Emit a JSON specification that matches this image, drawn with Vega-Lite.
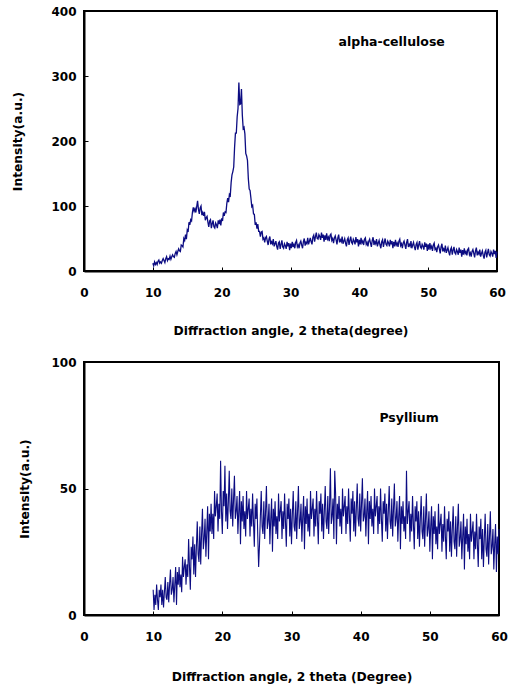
{
  "$schema": "https://vega.github.io/schema/vega-lite/v6.json",
  "background": "white",
  "padding": {"left": 10, "top": 4, "right": 10, "bottom": 2},
  "spacing": 17,
  "config": {
    "font": "DejaVu Sans",
    "view": {"stroke": "black", "strokeWidth": 2},
    "axis": {
      "domainColor": "black", "domainWidth": 2,
      "tickColor": "black", "tickWidth": 1, "tickSize": -4,
      "labelFont": "DejaVu Sans", "labelFontWeight": "bold", "labelFontSize": 12, "labelColor": "black",
      "titleFont": "DejaVu Sans", "titleFontWeight": "bold", "titleFontSize": 12.3, "titleColor": "black",
      "grid": false, "labelPadding": 12, "labelOverlap": false, "labelFlush": false
    }
  },
  "datasets": {
    "alpha": [
      {"angle":10,"intensity":12},{"angle":10.125,"intensity":8},{"angle":10.25,"intensity":14},{"angle":10.375,"intensity":10},{"angle":10.5,"intensity":13},{"angle":10.625,"intensity":10},{"angle":10.75,"intensity":15},{"angle":10.875,"intensity":17},
      {"angle":11,"intensity":12},{"angle":11.125,"intensity":14},{"angle":11.25,"intensity":12},{"angle":11.375,"intensity":16},{"angle":11.5,"intensity":19},{"angle":11.625,"intensity":16},{"angle":11.75,"intensity":13},{"angle":11.875,"intensity":19},
      {"angle":12,"intensity":22},{"angle":12.125,"intensity":16},{"angle":12.25,"intensity":19},{"angle":12.375,"intensity":18},{"angle":12.5,"intensity":23},{"angle":12.625,"intensity":18},{"angle":12.75,"intensity":22},{"angle":12.875,"intensity":25},
      {"angle":13,"intensity":22},{"angle":13.125,"intensity":21},{"angle":13.25,"intensity":27},{"angle":13.375,"intensity":30},{"angle":13.5,"intensity":25},{"angle":13.625,"intensity":30},{"angle":13.75,"intensity":34},{"angle":13.875,"intensity":31},
      {"angle":14,"intensity":30},{"angle":14.125,"intensity":40},{"angle":14.25,"intensity":39},{"angle":14.375,"intensity":37},{"angle":14.5,"intensity":50},{"angle":14.625,"intensity":47},{"angle":14.75,"intensity":56},{"angle":14.875,"intensity":49},
      {"angle":15,"intensity":63},{"angle":15.125,"intensity":60},{"angle":15.25,"intensity":75},{"angle":15.375,"intensity":71},{"angle":15.5,"intensity":79},{"angle":15.625,"intensity":77},{"angle":15.75,"intensity":90},{"angle":15.875,"intensity":98},
      {"angle":16,"intensity":92},{"angle":16.125,"intensity":96},{"angle":16.25,"intensity":90},{"angle":16.375,"intensity":99},{"angle":16.5,"intensity":108},{"angle":16.625,"intensity":95},{"angle":16.75,"intensity":88},{"angle":16.875,"intensity":97},
      {"angle":17,"intensity":100},{"angle":17.125,"intensity":86},{"angle":17.25,"intensity":90},{"angle":17.375,"intensity":85},{"angle":17.5,"intensity":91},{"angle":17.625,"intensity":78},{"angle":17.75,"intensity":82},{"angle":17.875,"intensity":84},
      {"angle":18,"intensity":75},{"angle":18.125,"intensity":68},{"angle":18.25,"intensity":77},{"angle":18.375,"intensity":79},{"angle":18.5,"intensity":66},{"angle":18.625,"intensity":73},{"angle":18.75,"intensity":78},{"angle":18.875,"intensity":68},
      {"angle":19,"intensity":66},{"angle":19.125,"intensity":74},{"angle":19.25,"intensity":71},{"angle":19.375,"intensity":66},{"angle":19.5,"intensity":78},{"angle":19.625,"intensity":72},{"angle":19.75,"intensity":79},{"angle":19.875,"intensity":70},
      {"angle":20,"intensity":81},{"angle":20.125,"intensity":77},{"angle":20.25,"intensity":90},{"angle":20.375,"intensity":85},{"angle":20.5,"intensity":91},{"angle":20.625,"intensity":90},{"angle":20.75,"intensity":104},{"angle":20.875,"intensity":112},
      {"angle":21,"intensity":106},{"angle":21.125,"intensity":118},{"angle":21.25,"intensity":116},{"angle":21.375,"intensity":136},{"angle":21.5,"intensity":148},{"angle":21.625,"intensity":153},{"angle":21.75,"intensity":160},{"angle":21.875,"intensity":190},
      {"angle":22,"intensity":212},{"angle":22.125,"intensity":212},{"angle":22.25,"intensity":237},{"angle":22.375,"intensity":250},{"angle":22.5,"intensity":290},{"angle":22.625,"intensity":256},{"angle":22.75,"intensity":257},{"angle":22.875,"intensity":280},
      {"angle":23,"intensity":240},{"angle":23.125,"intensity":219},{"angle":23.25,"intensity":221},{"angle":23.375,"intensity":211},{"angle":23.5,"intensity":181},{"angle":23.625,"intensity":177},{"angle":23.75,"intensity":170},{"angle":23.875,"intensity":142},
      {"angle":24,"intensity":126},{"angle":24.125,"intensity":124},{"angle":24.25,"intensity":112},{"angle":24.375,"intensity":99},{"angle":24.5,"intensity":101},{"angle":24.625,"intensity":88},{"angle":24.75,"intensity":87},{"angle":24.875,"intensity":71},
      {"angle":25,"intensity":75},{"angle":25.125,"intensity":65},{"angle":25.25,"intensity":72},{"angle":25.375,"intensity":61},{"angle":25.5,"intensity":61},{"angle":25.625,"intensity":53},{"angle":25.75,"intensity":60},{"angle":25.875,"intensity":61},
      {"angle":26,"intensity":49},{"angle":26.125,"intensity":51},{"angle":26.25,"intensity":44},{"angle":26.375,"intensity":51},{"angle":26.5,"intensity":53},{"angle":26.625,"intensity":46},{"angle":26.75,"intensity":40},{"angle":26.875,"intensity":49},
      {"angle":27,"intensity":53},{"angle":27.125,"intensity":41},{"angle":27.25,"intensity":45},{"angle":27.375,"intensity":42},{"angle":27.5,"intensity":49},{"angle":27.625,"intensity":38},{"angle":27.75,"intensity":42},{"angle":27.875,"intensity":46},
      {"angle":28,"intensity":38},{"angle":28.125,"intensity":33},{"angle":28.25,"intensity":43},{"angle":28.375,"intensity":45},{"angle":28.5,"intensity":34},{"angle":28.625,"intensity":41},{"angle":28.75,"intensity":47},{"angle":28.875,"intensity":37},
      {"angle":29,"intensity":35},{"angle":29.125,"intensity":42},{"angle":29.25,"intensity":39},{"angle":29.375,"intensity":34},{"angle":29.5,"intensity":45},{"angle":29.625,"intensity":38},{"angle":29.75,"intensity":43},{"angle":29.875,"intensity":32},
      {"angle":30,"intensity":42},{"angle":30.125,"intensity":35},{"angle":30.25,"intensity":45},{"angle":30.375,"intensity":37},{"angle":30.5,"intensity":41},{"angle":30.625,"intensity":35},{"angle":30.75,"intensity":44},{"angle":30.875,"intensity":47},
      {"angle":31,"intensity":37},{"angle":31.125,"intensity":40},{"angle":31.25,"intensity":35},{"angle":31.375,"intensity":43},{"angle":31.5,"intensity":46},{"angle":31.625,"intensity":40},{"angle":31.75,"intensity":35},{"angle":31.875,"intensity":45},
      {"angle":32,"intensity":50},{"angle":32.125,"intensity":39},{"angle":32.25,"intensity":44},{"angle":32.375,"intensity":42},{"angle":32.5,"intensity":51},{"angle":32.625,"intensity":41},{"angle":32.75,"intensity":46},{"angle":32.875,"intensity":51},
      {"angle":33,"intensity":45},{"angle":33.125,"intensity":41},{"angle":33.25,"intensity":52},{"angle":33.375,"intensity":55},{"angle":33.5,"intensity":45},{"angle":33.625,"intensity":53},{"angle":33.75,"intensity":59},{"angle":33.875,"intensity":50},
      {"angle":34,"intensity":49},{"angle":34.125,"intensity":56},{"angle":34.25,"intensity":53},{"angle":34.375,"intensity":48},{"angle":34.5,"intensity":59},{"angle":34.625,"intensity":51},{"angle":34.75,"intensity":56},{"angle":34.875,"intensity":45},
      {"angle":35,"intensity":55},{"angle":35.125,"intensity":48},{"angle":35.25,"intensity":58},{"angle":35.375,"intensity":49},{"angle":35.5,"intensity":52},{"angle":35.625,"intensity":46},{"angle":35.75,"intensity":55},{"angle":35.875,"intensity":57},
      {"angle":36,"intensity":47},{"angle":36.125,"intensity":50},{"angle":36.25,"intensity":43},{"angle":36.375,"intensity":51},{"angle":36.5,"intensity":54},{"angle":36.625,"intensity":48},{"angle":36.75,"intensity":41},{"angle":36.875,"intensity":51},
      {"angle":37,"intensity":56},{"angle":37.125,"intensity":44},{"angle":37.25,"intensity":48},{"angle":37.375,"intensity":45},{"angle":37.5,"intensity":53},{"angle":37.625,"intensity":42},{"angle":37.75,"intensity":46},{"angle":37.875,"intensity":50},
      {"angle":38,"intensity":43},{"angle":38.125,"intensity":38},{"angle":38.25,"intensity":48},{"angle":38.375,"intensity":51},{"angle":38.5,"intensity":40},{"angle":38.625,"intensity":47},{"angle":38.75,"intensity":53},{"angle":38.875,"intensity":44},
      {"angle":39,"intensity":42},{"angle":39.125,"intensity":49},{"angle":39.25,"intensity":46},{"angle":39.375,"intensity":41},{"angle":39.5,"intensity":52},{"angle":39.625,"intensity":44},{"angle":39.75,"intensity":49},{"angle":39.875,"intensity":38},
      {"angle":40,"intensity":48},{"angle":40.125,"intensity":41},{"angle":40.25,"intensity":51},{"angle":40.375,"intensity":43},{"angle":40.5,"intensity":46},{"angle":40.625,"intensity":40},{"angle":40.75,"intensity":49},{"angle":40.875,"intensity":51},
      {"angle":41,"intensity":41},{"angle":41.125,"intensity":44},{"angle":41.25,"intensity":38},{"angle":41.375,"intensity":46},{"angle":41.5,"intensity":49},{"angle":41.625,"intensity":43},{"angle":41.75,"intensity":37},{"angle":41.875,"intensity":47},
      {"angle":42,"intensity":52},{"angle":42.125,"intensity":40},{"angle":42.25,"intensity":45},{"angle":42.375,"intensity":42},{"angle":42.5,"intensity":49},{"angle":42.625,"intensity":38},{"angle":42.75,"intensity":43},{"angle":42.875,"intensity":47},
      {"angle":43,"intensity":40},{"angle":43.125,"intensity":35},{"angle":43.25,"intensity":45},{"angle":43.375,"intensity":48},{"angle":43.5,"intensity":37},{"angle":43.625,"intensity":44},{"angle":43.75,"intensity":50},{"angle":43.875,"intensity":41},
      {"angle":44,"intensity":39},{"angle":44.125,"intensity":46},{"angle":44.25,"intensity":43},{"angle":44.375,"intensity":38},{"angle":44.5,"intensity":48},{"angle":44.625,"intensity":41},{"angle":44.75,"intensity":46},{"angle":44.875,"intensity":35},
      {"angle":45,"intensity":45},{"angle":45.125,"intensity":38},{"angle":45.25,"intensity":48},{"angle":45.375,"intensity":40},{"angle":45.5,"intensity":43},{"angle":45.625,"intensity":37},{"angle":45.75,"intensity":46},{"angle":45.875,"intensity":49},
      {"angle":46,"intensity":39},{"angle":46.125,"intensity":42},{"angle":46.25,"intensity":35},{"angle":46.375,"intensity":43},{"angle":46.5,"intensity":46},{"angle":46.625,"intensity":40},{"angle":46.75,"intensity":34},{"angle":46.875,"intensity":44},
      {"angle":47,"intensity":49},{"angle":47.125,"intensity":37},{"angle":47.25,"intensity":41},{"angle":47.375,"intensity":38},{"angle":47.5,"intensity":46},{"angle":47.625,"intensity":35},{"angle":47.75,"intensity":40},{"angle":47.875,"intensity":44},
      {"angle":48,"intensity":37},{"angle":48.125,"intensity":32},{"angle":48.25,"intensity":41},{"angle":48.375,"intensity":44},{"angle":48.5,"intensity":33},{"angle":48.625,"intensity":40},{"angle":48.75,"intensity":46},{"angle":48.875,"intensity":37},
      {"angle":49,"intensity":35},{"angle":49.125,"intensity":41},{"angle":49.25,"intensity":38},{"angle":49.375,"intensity":33},{"angle":49.5,"intensity":44},{"angle":49.625,"intensity":37},{"angle":49.75,"intensity":42},{"angle":49.875,"intensity":31},
      {"angle":50,"intensity":41},{"angle":50.125,"intensity":33},{"angle":50.25,"intensity":43},{"angle":50.375,"intensity":35},{"angle":50.5,"intensity":38},{"angle":50.625,"intensity":31},{"angle":50.75,"intensity":40},{"angle":50.875,"intensity":43},
      {"angle":51,"intensity":33},{"angle":51.125,"intensity":35},{"angle":51.25,"intensity":29},{"angle":51.375,"intensity":37},{"angle":51.5,"intensity":40},{"angle":51.625,"intensity":34},{"angle":51.75,"intensity":27},{"angle":51.875,"intensity":37},
      {"angle":52,"intensity":42},{"angle":52.125,"intensity":30},{"angle":52.25,"intensity":34},{"angle":52.375,"intensity":31},{"angle":52.5,"intensity":39},{"angle":52.625,"intensity":28},{"angle":52.75,"intensity":32},{"angle":52.875,"intensity":36},
      {"angle":53,"intensity":29},{"angle":53.125,"intensity":24},{"angle":53.25,"intensity":33},{"angle":53.375,"intensity":36},{"angle":53.5,"intensity":25},{"angle":53.625,"intensity":32},{"angle":53.75,"intensity":37},{"angle":53.875,"intensity":28},
      {"angle":54,"intensity":26},{"angle":54.125,"intensity":33},{"angle":54.25,"intensity":30},{"angle":54.375,"intensity":25},{"angle":54.5,"intensity":36},{"angle":54.625,"intensity":28},{"angle":54.75,"intensity":33},{"angle":54.875,"intensity":22},
      {"angle":55,"intensity":32},{"angle":55.125,"intensity":25},{"angle":55.25,"intensity":35},{"angle":55.375,"intensity":27},{"angle":55.5,"intensity":30},{"angle":55.625,"intensity":24},{"angle":55.75,"intensity":33},{"angle":55.875,"intensity":35},
      {"angle":56,"intensity":25},{"angle":56.125,"intensity":28},{"angle":56.25,"intensity":22},{"angle":56.375,"intensity":30},{"angle":56.5,"intensity":33},{"angle":56.625,"intensity":27},{"angle":56.75,"intensity":21},{"angle":56.875,"intensity":31},
      {"angle":57,"intensity":36},{"angle":57.125,"intensity":24},{"angle":57.25,"intensity":29},{"angle":57.375,"intensity":26},{"angle":57.5,"intensity":33},{"angle":57.625,"intensity":22},{"angle":57.75,"intensity":27},{"angle":57.875,"intensity":31},
      {"angle":58,"intensity":24},{"angle":58.125,"intensity":19},{"angle":58.25,"intensity":29},{"angle":58.375,"intensity":32},{"angle":58.5,"intensity":21},{"angle":58.625,"intensity":28},{"angle":58.75,"intensity":34},{"angle":58.875,"intensity":25},
      {"angle":59,"intensity":23},{"angle":59.125,"intensity":30},{"angle":59.25,"intensity":27},{"angle":59.375,"intensity":22},{"angle":59.5,"intensity":33},{"angle":59.625,"intensity":26},{"angle":59.75,"intensity":31},{"angle":59.875,"intensity":20},
      {"angle":60,"intensity":30}
    ],
    "psyl": [
      {"angle":10,"intensity":10},{"angle":10.125,"intensity":2},{"angle":10.25,"intensity":8},{"angle":10.375,"intensity":4},{"angle":10.5,"intensity":12},{"angle":10.625,"intensity":6},{"angle":10.75,"intensity":2},{"angle":10.875,"intensity":10},
      {"angle":11,"intensity":7},{"angle":11.125,"intensity":12},{"angle":11.25,"intensity":4},{"angle":11.375,"intensity":10},{"angle":11.5,"intensity":3},{"angle":11.625,"intensity":9},{"angle":11.75,"intensity":15},{"angle":11.875,"intensity":7},
      {"angle":12,"intensity":6},{"angle":12.125,"intensity":13},{"angle":12.25,"intensity":5},{"angle":12.375,"intensity":12},{"angle":12.5,"intensity":18},{"angle":12.625,"intensity":8},{"angle":12.75,"intensity":10},{"angle":12.875,"intensity":15},
      {"angle":13,"intensity":5},{"angle":13.125,"intensity":12},{"angle":13.25,"intensity":19},{"angle":13.375,"intensity":4},{"angle":13.5,"intensity":17},{"angle":13.625,"intensity":12},{"angle":13.75,"intensity":19},{"angle":13.875,"intensity":11},
      {"angle":14,"intensity":16},{"angle":14.125,"intensity":9},{"angle":14.25,"intensity":23},{"angle":14.375,"intensity":15},{"angle":14.5,"intensity":19},{"angle":14.625,"intensity":22},{"angle":14.75,"intensity":12},{"angle":14.875,"intensity":20},
      {"angle":15,"intensity":15},{"angle":15.125,"intensity":30},{"angle":15.25,"intensity":19},{"angle":15.375,"intensity":10},{"angle":15.5,"intensity":27},{"angle":15.625,"intensity":22},{"angle":15.75,"intensity":31},{"angle":15.875,"intensity":16},
      {"angle":16,"intensity":28},{"angle":16.125,"intensity":15},{"angle":16.25,"intensity":27},{"angle":16.375,"intensity":37},{"angle":16.5,"intensity":24},{"angle":16.625,"intensity":21},{"angle":16.75,"intensity":35},{"angle":16.875,"intensity":20},
      {"angle":17,"intensity":32},{"angle":17.125,"intensity":42},{"angle":17.25,"intensity":26},{"angle":17.375,"intensity":30},{"angle":17.5,"intensity":38},{"angle":17.625,"intensity":23},{"angle":17.75,"intensity":33},{"angle":17.875,"intensity":43},
      {"angle":18,"intensity":22},{"angle":18.125,"intensity":40},{"angle":18.25,"intensity":33},{"angle":18.375,"intensity":44},{"angle":18.5,"intensity":32},{"angle":18.625,"intensity":40},{"angle":18.75,"intensity":30},{"angle":18.875,"intensity":49},
      {"angle":19,"intensity":39},{"angle":19.125,"intensity":43},{"angle":19.25,"intensity":48},{"angle":19.375,"intensity":33},{"angle":19.5,"intensity":44},{"angle":19.625,"intensity":38},{"angle":19.75,"intensity":61},{"angle":19.875,"intensity":41},
      {"angle":20,"intensity":32},{"angle":20.125,"intensity":49},{"angle":20.25,"intensity":43},{"angle":20.375,"intensity":59},{"angle":20.5,"intensity":37},{"angle":20.625,"intensity":48},{"angle":20.75,"intensity":34},{"angle":20.875,"intensity":45},
      {"angle":21,"intensity":57},{"angle":21.125,"intensity":41},{"angle":21.25,"intensity":38},{"angle":21.375,"intensity":50},{"angle":21.5,"intensity":35},{"angle":21.625,"intensity":46},{"angle":21.75,"intensity":55},{"angle":21.875,"intensity":38},
      {"angle":22,"intensity":41},{"angle":22.125,"intensity":47},{"angle":22.25,"intensity":32},{"angle":22.375,"intensity":41},{"angle":22.5,"intensity":49},{"angle":22.625,"intensity":28},{"angle":22.75,"intensity":45},{"angle":22.875,"intensity":37},
      {"angle":23,"intensity":47},{"angle":23.125,"intensity":34},{"angle":23.25,"intensity":41},{"angle":23.375,"intensity":31},{"angle":23.5,"intensity":49},{"angle":23.625,"intensity":38},{"angle":23.75,"intensity":42},{"angle":23.875,"intensity":46},
      {"angle":24,"intensity":31},{"angle":24.125,"intensity":42},{"angle":24.25,"intensity":35},{"angle":24.375,"intensity":48},{"angle":24.5,"intensity":37},{"angle":24.625,"intensity":27},{"angle":24.75,"intensity":44},{"angle":24.875,"intensity":38},
      {"angle":25,"intensity":46},{"angle":25.125,"intensity":31},{"angle":25.25,"intensity":19},{"angle":25.375,"intensity":28},{"angle":25.5,"intensity":39},{"angle":25.625,"intensity":49},{"angle":25.75,"intensity":35},{"angle":25.875,"intensity":32},
      {"angle":26,"intensity":45},{"angle":26.125,"intensity":30},{"angle":26.25,"intensity":41},{"angle":26.375,"intensity":51},{"angle":26.5,"intensity":34},{"angle":26.625,"intensity":37},{"angle":26.75,"intensity":44},{"angle":26.875,"intensity":28},
      {"angle":27,"intensity":38},{"angle":27.125,"intensity":46},{"angle":27.25,"intensity":25},{"angle":27.375,"intensity":42},{"angle":27.5,"intensity":35},{"angle":27.625,"intensity":45},{"angle":27.75,"intensity":32},{"angle":27.875,"intensity":39},
      {"angle":28,"intensity":30},{"angle":28.125,"intensity":48},{"angle":28.25,"intensity":37},{"angle":28.375,"intensity":41},{"angle":28.5,"intensity":45},{"angle":28.625,"intensity":30},{"angle":28.75,"intensity":41},{"angle":28.875,"intensity":34},
      {"angle":29,"intensity":48},{"angle":29.125,"intensity":37},{"angle":29.25,"intensity":27},{"angle":29.375,"intensity":44},{"angle":29.5,"intensity":38},{"angle":29.625,"intensity":46},{"angle":29.75,"intensity":31},{"angle":29.875,"intensity":42},
      {"angle":30,"intensity":28},{"angle":30.125,"intensity":40},{"angle":30.25,"intensity":49},{"angle":30.375,"intensity":35},{"angle":30.5,"intensity":33},{"angle":30.625,"intensity":45},{"angle":30.75,"intensity":30},{"angle":30.875,"intensity":41},
      {"angle":31,"intensity":51},{"angle":31.125,"intensity":34},{"angle":31.25,"intensity":37},{"angle":31.375,"intensity":44},{"angle":31.5,"intensity":29},{"angle":31.625,"intensity":39},{"angle":31.75,"intensity":47},{"angle":31.875,"intensity":26},
      {"angle":32,"intensity":43},{"angle":32.125,"intensity":36},{"angle":32.25,"intensity":46},{"angle":32.375,"intensity":33},{"angle":32.5,"intensity":40},{"angle":32.625,"intensity":31},{"angle":32.75,"intensity":49},{"angle":32.875,"intensity":38},
      {"angle":33,"intensity":42},{"angle":33.125,"intensity":46},{"angle":33.25,"intensity":31},{"angle":33.375,"intensity":42},{"angle":33.5,"intensity":35},{"angle":33.625,"intensity":49},{"angle":33.75,"intensity":38},{"angle":33.875,"intensity":28},
      {"angle":34,"intensity":45},{"angle":34.125,"intensity":40},{"angle":34.25,"intensity":48},{"angle":34.375,"intensity":33},{"angle":34.5,"intensity":44},{"angle":34.625,"intensity":30},{"angle":34.75,"intensity":41},{"angle":34.875,"intensity":51},
      {"angle":35,"intensity":37},{"angle":35.125,"intensity":34},{"angle":35.25,"intensity":47},{"angle":35.375,"intensity":32},{"angle":35.5,"intensity":43},{"angle":35.625,"intensity":58},{"angle":35.75,"intensity":36},{"angle":35.875,"intensity":39},
      {"angle":36,"intensity":46},{"angle":36.125,"intensity":30},{"angle":36.25,"intensity":57},{"angle":36.375,"intensity":48},{"angle":36.5,"intensity":28},{"angle":36.625,"intensity":44},{"angle":36.75,"intensity":38},{"angle":36.875,"intensity":47},
      {"angle":37,"intensity":35},{"angle":37.125,"intensity":42},{"angle":37.25,"intensity":32},{"angle":37.375,"intensity":50},{"angle":37.5,"intensity":39},{"angle":37.625,"intensity":43},{"angle":37.75,"intensity":47},{"angle":37.875,"intensity":32},
      {"angle":38,"intensity":43},{"angle":38.125,"intensity":36},{"angle":38.25,"intensity":50},{"angle":38.375,"intensity":39},{"angle":38.5,"intensity":29},{"angle":38.625,"intensity":46},{"angle":38.75,"intensity":40},{"angle":38.875,"intensity":49},
      {"angle":39,"intensity":33},{"angle":39.125,"intensity":45},{"angle":39.25,"intensity":31},{"angle":39.375,"intensity":42},{"angle":39.5,"intensity":52},{"angle":39.625,"intensity":38},{"angle":39.75,"intensity":35},{"angle":39.875,"intensity":48},
      {"angle":40,"intensity":33},{"angle":40.125,"intensity":44},{"angle":40.25,"intensity":54},{"angle":40.375,"intensity":37},{"angle":40.5,"intensity":39},{"angle":40.625,"intensity":46},{"angle":40.75,"intensity":31},{"angle":40.875,"intensity":41},
      {"angle":41,"intensity":49},{"angle":41.125,"intensity":28},{"angle":41.25,"intensity":45},{"angle":41.375,"intensity":38},{"angle":41.5,"intensity":47},{"angle":41.625,"intensity":35},{"angle":41.75,"intensity":42},{"angle":41.875,"intensity":32},
      {"angle":42,"intensity":50},{"angle":42.125,"intensity":39},{"angle":42.25,"intensity":43},{"angle":42.375,"intensity":47},{"angle":42.5,"intensity":32},{"angle":42.625,"intensity":43},{"angle":42.75,"intensity":36},{"angle":42.875,"intensity":50},
      {"angle":43,"intensity":38},{"angle":43.125,"intensity":29},{"angle":43.25,"intensity":45},{"angle":43.375,"intensity":40},{"angle":43.5,"intensity":48},{"angle":43.625,"intensity":33},{"angle":43.75,"intensity":44},{"angle":43.875,"intensity":30},
      {"angle":44,"intensity":41},{"angle":44.125,"intensity":51},{"angle":44.25,"intensity":37},{"angle":44.375,"intensity":34},{"angle":44.5,"intensity":46},{"angle":44.625,"intensity":31},{"angle":44.75,"intensity":42},{"angle":44.875,"intensity":52},
      {"angle":45,"intensity":35},{"angle":45.125,"intensity":38},{"angle":45.25,"intensity":45},{"angle":45.375,"intensity":29},{"angle":45.5,"intensity":39},{"angle":45.625,"intensity":47},{"angle":45.75,"intensity":26},{"angle":45.875,"intensity":43},
      {"angle":46,"intensity":36},{"angle":46.125,"intensity":45},{"angle":46.25,"intensity":33},{"angle":46.375,"intensity":39},{"angle":46.5,"intensity":30},{"angle":46.625,"intensity":57},{"angle":46.75,"intensity":36},{"angle":46.875,"intensity":41},
      {"angle":47,"intensity":45},{"angle":47.125,"intensity":29},{"angle":47.25,"intensity":40},{"angle":47.375,"intensity":33},{"angle":47.5,"intensity":47},{"angle":47.625,"intensity":36},{"angle":47.75,"intensity":26},{"angle":47.875,"intensity":43},
      {"angle":48,"intensity":37},{"angle":48.125,"intensity":45},{"angle":48.25,"intensity":30},{"angle":48.375,"intensity":41},{"angle":48.5,"intensity":27},{"angle":48.625,"intensity":38},{"angle":48.75,"intensity":47},{"angle":48.875,"intensity":33},
      {"angle":49,"intensity":30},{"angle":49.125,"intensity":43},{"angle":49.25,"intensity":27},{"angle":49.375,"intensity":38},{"angle":49.5,"intensity":48},{"angle":49.625,"intensity":31},{"angle":49.75,"intensity":34},{"angle":49.875,"intensity":41},
      {"angle":50,"intensity":25},{"angle":50.125,"intensity":35},{"angle":50.25,"intensity":43},{"angle":50.375,"intensity":22},{"angle":50.5,"intensity":39},{"angle":50.625,"intensity":32},{"angle":50.75,"intensity":41},{"angle":50.875,"intensity":28},
      {"angle":51,"intensity":35},{"angle":51.125,"intensity":26},{"angle":51.25,"intensity":44},{"angle":51.375,"intensity":32},{"angle":51.5,"intensity":36},{"angle":51.625,"intensity":40},{"angle":51.75,"intensity":25},{"angle":51.875,"intensity":36},
      {"angle":52,"intensity":29},{"angle":52.125,"intensity":43},{"angle":52.25,"intensity":31},{"angle":52.375,"intensity":22},{"angle":52.5,"intensity":38},{"angle":52.625,"intensity":33},{"angle":52.75,"intensity":41},{"angle":52.875,"intensity":25},
      {"angle":53,"intensity":37},{"angle":53.125,"intensity":23},{"angle":53.25,"intensity":34},{"angle":53.375,"intensity":43},{"angle":53.5,"intensity":29},{"angle":53.625,"intensity":26},{"angle":53.75,"intensity":39},{"angle":53.875,"intensity":23},
      {"angle":54,"intensity":35},{"angle":54.125,"intensity":44},{"angle":54.25,"intensity":27},{"angle":54.375,"intensity":30},{"angle":54.5,"intensity":37},{"angle":54.625,"intensity":22},{"angle":54.75,"intensity":31},{"angle":54.875,"intensity":40},
      {"angle":55,"intensity":18},{"angle":55.125,"intensity":35},{"angle":55.25,"intensity":28},{"angle":55.375,"intensity":38},{"angle":55.5,"intensity":25},{"angle":55.625,"intensity":32},{"angle":55.75,"intensity":22},{"angle":55.875,"intensity":40},
      {"angle":56,"intensity":29},{"angle":56.125,"intensity":33},{"angle":56.25,"intensity":37},{"angle":56.375,"intensity":22},{"angle":56.5,"intensity":33},{"angle":56.625,"intensity":26},{"angle":56.75,"intensity":40},{"angle":56.875,"intensity":28},
      {"angle":57,"intensity":19},{"angle":57.125,"intensity":35},{"angle":57.25,"intensity":30},{"angle":57.375,"intensity":38},{"angle":57.5,"intensity":22},{"angle":57.625,"intensity":34},{"angle":57.75,"intensity":19},{"angle":57.875,"intensity":30},
      {"angle":58,"intensity":40},{"angle":58.125,"intensity":26},{"angle":58.25,"intensity":23},{"angle":58.375,"intensity":36},{"angle":58.5,"intensity":20},{"angle":58.625,"intensity":31},{"angle":58.75,"intensity":41},{"angle":58.875,"intensity":24},
      {"angle":59,"intensity":27},{"angle":59.125,"intensity":34},{"angle":59.25,"intensity":18},{"angle":59.375,"intensity":28},{"angle":59.5,"intensity":36},{"angle":59.625,"intensity":17},{"angle":59.75,"intensity":31},{"angle":59.875,"intensity":24},
      {"angle":60,"intensity":34}
    ]
  },
  "vconcat": [
    {
      "width": 413, "height": 260,
      "layer": [
        {
          "data": {"name": "alpha"},
          "mark": {"type": "line", "color": "#0c0c82", "strokeWidth": 1.3},
          "encoding": {
            "x": {"field": "angle", "type": "quantitative", "scale": {"domain": [0, 60], "nice": false},
                  "axis": {"values": [0, 10, 20, 30, 40, 50, 60], "title": "Diffraction angle, 2 theta(degree)", "titlePadding": 26, "labelPadding": 20}},
            "y": {"field": "intensity", "type": "quantitative", "scale": {"domain": [0, 400], "nice": false},
                  "axis": {"values": [0, 50, 100, 150, 200, 250, 300, 350, 400], "title": "Intensity(a.u.)", "titlePadding": 26}}
          }
        },
        {
          "data": {"values": [{}]},
          "mark": {"type": "text", "text": "alpha-cellulose", "font": "DejaVu Sans", "fontSize": 12.5, "fontWeight": "bold", "color": "black"},
          "encoding": {
            "x": {"datum": 44.7, "type": "quantitative"},
            "y": {"datum": 352, "type": "quantitative"}
          }
        }
      ]
    },
    {
      "width": 415, "height": 253,
      "layer": [
        {
          "data": {"name": "psyl"},
          "mark": {"type": "line", "color": "#0c0c82", "strokeWidth": 1.1},
          "encoding": {
            "x": {"field": "angle", "type": "quantitative", "scale": {"domain": [0, 60], "nice": false},
                  "axis": {"values": [0, 10, 20, 30, 40, 50, 60], "title": "Diffraction angle, 2 theta (Degree)", "titlePadding": 28, "labelPadding": 20}},
            "y": {"field": "intensity", "type": "quantitative", "scale": {"domain": [0, 100], "nice": false},
                  "axis": {"values": [0, 50, 100], "title": "Intensity(a.u.)", "titlePadding": 19}}
          }
        },
        {
          "data": {"values": [{}]},
          "mark": {"type": "text", "text": "Psyllium", "font": "DejaVu Sans", "fontSize": 12.5, "fontWeight": "bold", "color": "black"},
          "encoding": {
            "x": {"datum": 47, "type": "quantitative"},
            "y": {"datum": 78, "type": "quantitative"}
          }
        }
      ]
    }
  ]
}
